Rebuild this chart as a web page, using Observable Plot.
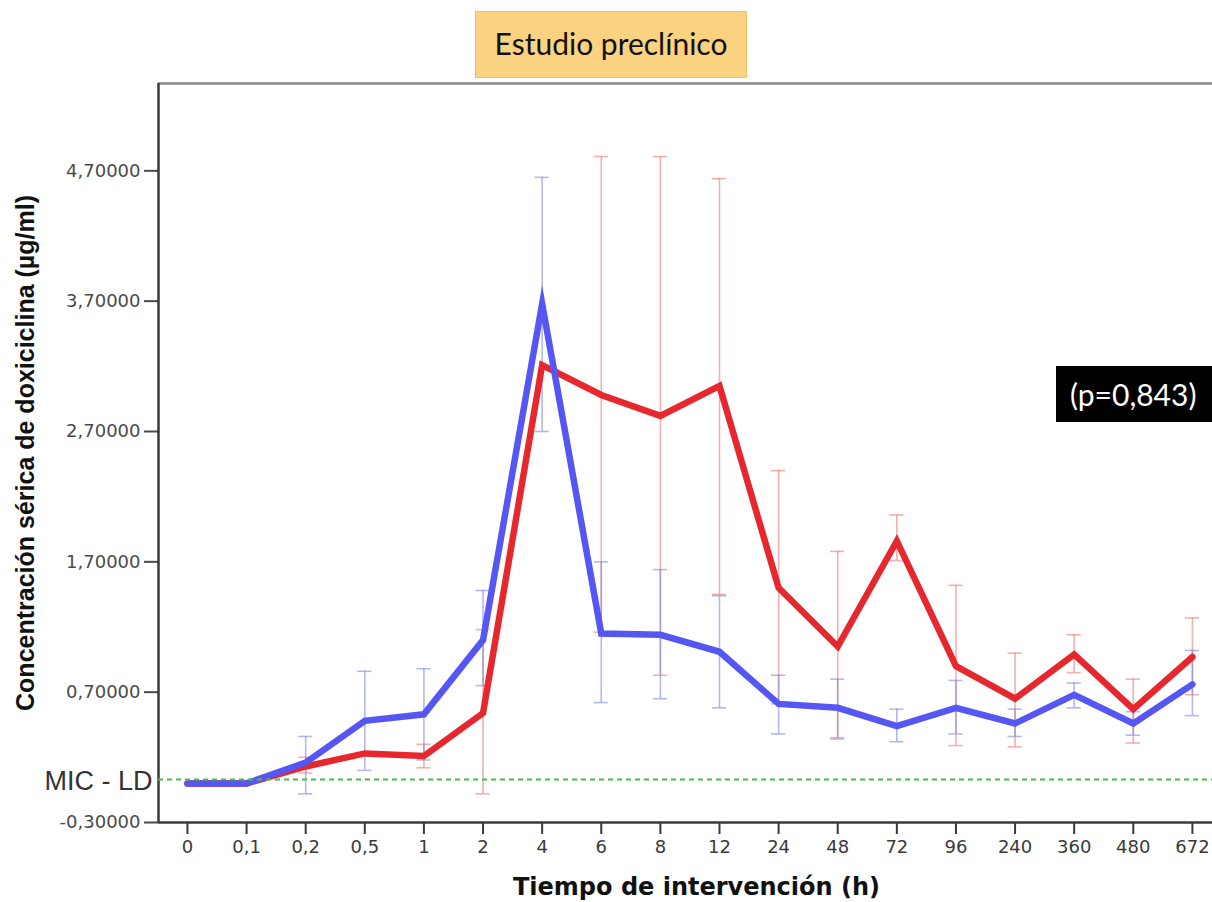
<!DOCTYPE html>
<html>
<head>
<meta charset="utf-8">
<script src="https://cdn.jsdelivr.net/npm/d3@7"></script>
<script src="https://cdn.jsdelivr.net/npm/@observablehq/plot@0.6"></script>
<style>
html, body { margin: 0; padding: 0; background: #fff; }
#wrap { position: relative; width: 1212px; height: 902px; overflow: hidden; background: #fff; }
#chart { position: absolute; left: 0; top: 0; }
.title-box {
  position: absolute; left: 475px; top: 11px; width: 272px; height: 67px;
  box-sizing: border-box; background: #FBD380; border: 1px solid #EFC15E;
  font-family: Lato, "Open Sans", sans-serif; font-size: 30px; line-height: 62px;
  text-align: center; color: #111; white-space: nowrap;
}
.p-box {
  position: absolute; left: 1056px; top: 366px; width: 156px; height: 56px;
  box-sizing: border-box; background: #000; color: #fff; padding-left: 14px;
  font-family: Lato, "Open Sans", sans-serif; font-size: 30px; line-height: 56px;
  white-space: nowrap;
}
</style>
</head>
<body>
<div id="wrap">
  <div id="chart"></div>
  <div class="title-box">Estudio preclínico</div>
  <div class="p-box">(p=0,843)</div>
</div>
<script>
// ---- Data ----
const timeLabels = ["0", "0,1", "0,2", "0,5", "1", "2", "4", "6", "8", "12", "24", "48", "72", "96", "240", "360", "480", "672"];

// Blue group: mean and error-bar ends
const blueMean = [0.00, 0.00, 0.16, 0.48, 0.53, 1.10, 3.68, 1.15, 1.14, 1.01, 0.61, 0.58, 0.44, 0.58, 0.46, 0.68, 0.46, 0.76];
const blueLow  = [null, null, -0.08, 0.10, 0.18, 0.75, 2.70, 0.62, 0.65, 0.58, 0.38, 0.35, 0.32, 0.38, 0.36, 0.58, 0.37, 0.52];
const blueHigh = [null, null, 0.36, 0.86, 0.88, 1.48, 4.65, 1.70, 1.64, 1.44, 0.83, 0.80, 0.57, 0.79, 0.57, 0.77, 0.55, 1.02];

// Red group: mean and error-bar ends
const redMean = [0.00, 0.00, 0.13, 0.23, 0.21, 0.54, 3.21, 2.98, 2.82, 3.05, 1.50, 1.05, 1.86, 0.90, 0.65, 0.99, 0.57, 0.97];
const redLow  = [null, null, 0.08, null, 0.12, -0.08, null, 1.16, 0.83, 1.45, 0.61, 0.34, 1.71, 0.29, 0.28, 0.85, 0.31, 0.68];
const redHigh = [null, null, 0.20, null, 0.30, 1.18, null, 4.81, 4.81, 4.64, 2.40, 1.78, 2.06, 1.52, 1.00, 1.14, 0.80, 1.27];

const yTicks = [-0.3, 0.7, 1.7, 2.7, 3.7, 4.7];
const micLevel = 0.03;
const micLabel = "MIC - LD";
const xTitle = "Tiempo de intervención (h)";
const yTitle = "Concentración sérica de doxiciclina (µg/ml)";

// ---- Build tables ----
const idx = d3.range(timeLabels.length);
const blueRows = idx.map(i => ({i, v: blueMean[i], lo: blueLow[i], hi: blueHigh[i]}));
const redRows = idx.map(i => ({i, v: redMean[i], lo: redLow[i], hi: redHigh[i]}));
const blueBars = blueRows.filter(d => d.lo != null);
const redBars = redRows.filter(d => d.lo != null);

const xDomain = [-0.49, 17.34];
const yDomain = [-0.3, 5.37];
const capHalf = 0.12;
const fmt = d => d.toFixed(5).replace(".", ",");

const blueLine = "#5656F4";
const redLine = "#E6282E";
const blueBar = "#7F8BDD";
const redBar = "#EE7A7A";

function errorBars(rows, color) {
  const o = {stroke: color, strokeOpacity: 0.6, strokeWidth: 1.6};
  return [
    Plot.ruleX(rows, {x: "i", y1: "lo", y2: "hi", ...o}),
    Plot.ruleY(rows, {y: "lo", x1: d => d.i - capHalf, x2: d => d.i + capHalf, ...o}),
    Plot.ruleY(rows, {y: "hi", x1: d => d.i - capHalf, x2: d => d.i + capHalf, ...o})
  ];
}

const chart = Plot.plot({
  width: 1212,
  height: 902,
  marginLeft: 158,
  marginRight: 0,
  marginTop: 83,
  marginBottom: 80,
  style: {fontFamily: "DejaVu Sans", fontSize: "17px", color: "#444", background: "transparent"},
  x: {type: "linear", domain: xDomain},
  y: {type: "linear", domain: yDomain},
  marks: [
    Plot.axisY({ticks: yTicks, tickFormat: fmt, tickSize: 14, tickPadding: 4, fontSize: 18, strokeWidth: 2, label: null, color: "#4a4a4a"}),
    Plot.axisX({ticks: idx, tickFormat: i => timeLabels[i], tickSize: 12, tickPadding: 6, fontSize: 18, strokeWidth: 2, label: null, color: "#3a3a3a"}),
    // axis frame lines
    Plot.ruleY([yDomain[1]], {stroke: "#888", strokeWidth: 2.5}),
    Plot.ruleX([xDomain[0]], {stroke: "#3a3a3a", strokeWidth: 2.5}),
    Plot.ruleY([yDomain[0]], {stroke: "#3a3a3a", strokeWidth: 2.5}),
    // error bars
    ...errorBars(redBars, redBar),
    ...errorBars(blueBars, blueBar),
    // mean lines
    Plot.line(redRows, {x: "i", y: "v", stroke: redLine, strokeWidth: 6.5, strokeLinejoin: "miter", strokeMiterlimit: 12}),
    Plot.line(blueRows, {x: "i", y: "v", stroke: blueLine, strokeWidth: 6.5, strokeLinejoin: "miter", strokeMiterlimit: 12}),
    // MIC - LD dashed reference
    Plot.ruleY([micLevel], {stroke: "#47BE47", strokeWidth: 2, strokeDasharray: "5,4"}),
    Plot.text([micLevel], {y: d => d, frameAnchor: "left", text: () => micLabel, textAnchor: "end", dx: -6, dy: 2, fontSize: 27, fontFamily: "Liberation Sans", fill: "#333"}),
    // axis titles
    Plot.text([xTitle], {frameAnchor: "bottom", text: d => d, textAnchor: "middle", lineAnchor: "bottom", dy: 72, dx: 11, fontSize: 24, fontWeight: "bold", fontFamily: "DejaVu Sans", fill: "#111"}),
    Plot.text([yTitle], {frameAnchor: "left", text: d => d, textAnchor: "middle", lineAnchor: "middle", rotate: -90, dx: -133, fontSize: 25, fontWeight: "bold", fontFamily: "Liberation Sans", fill: "#111"})
  ]
});
document.getElementById("chart").appendChild(chart);
</script>
</body>
</html>
